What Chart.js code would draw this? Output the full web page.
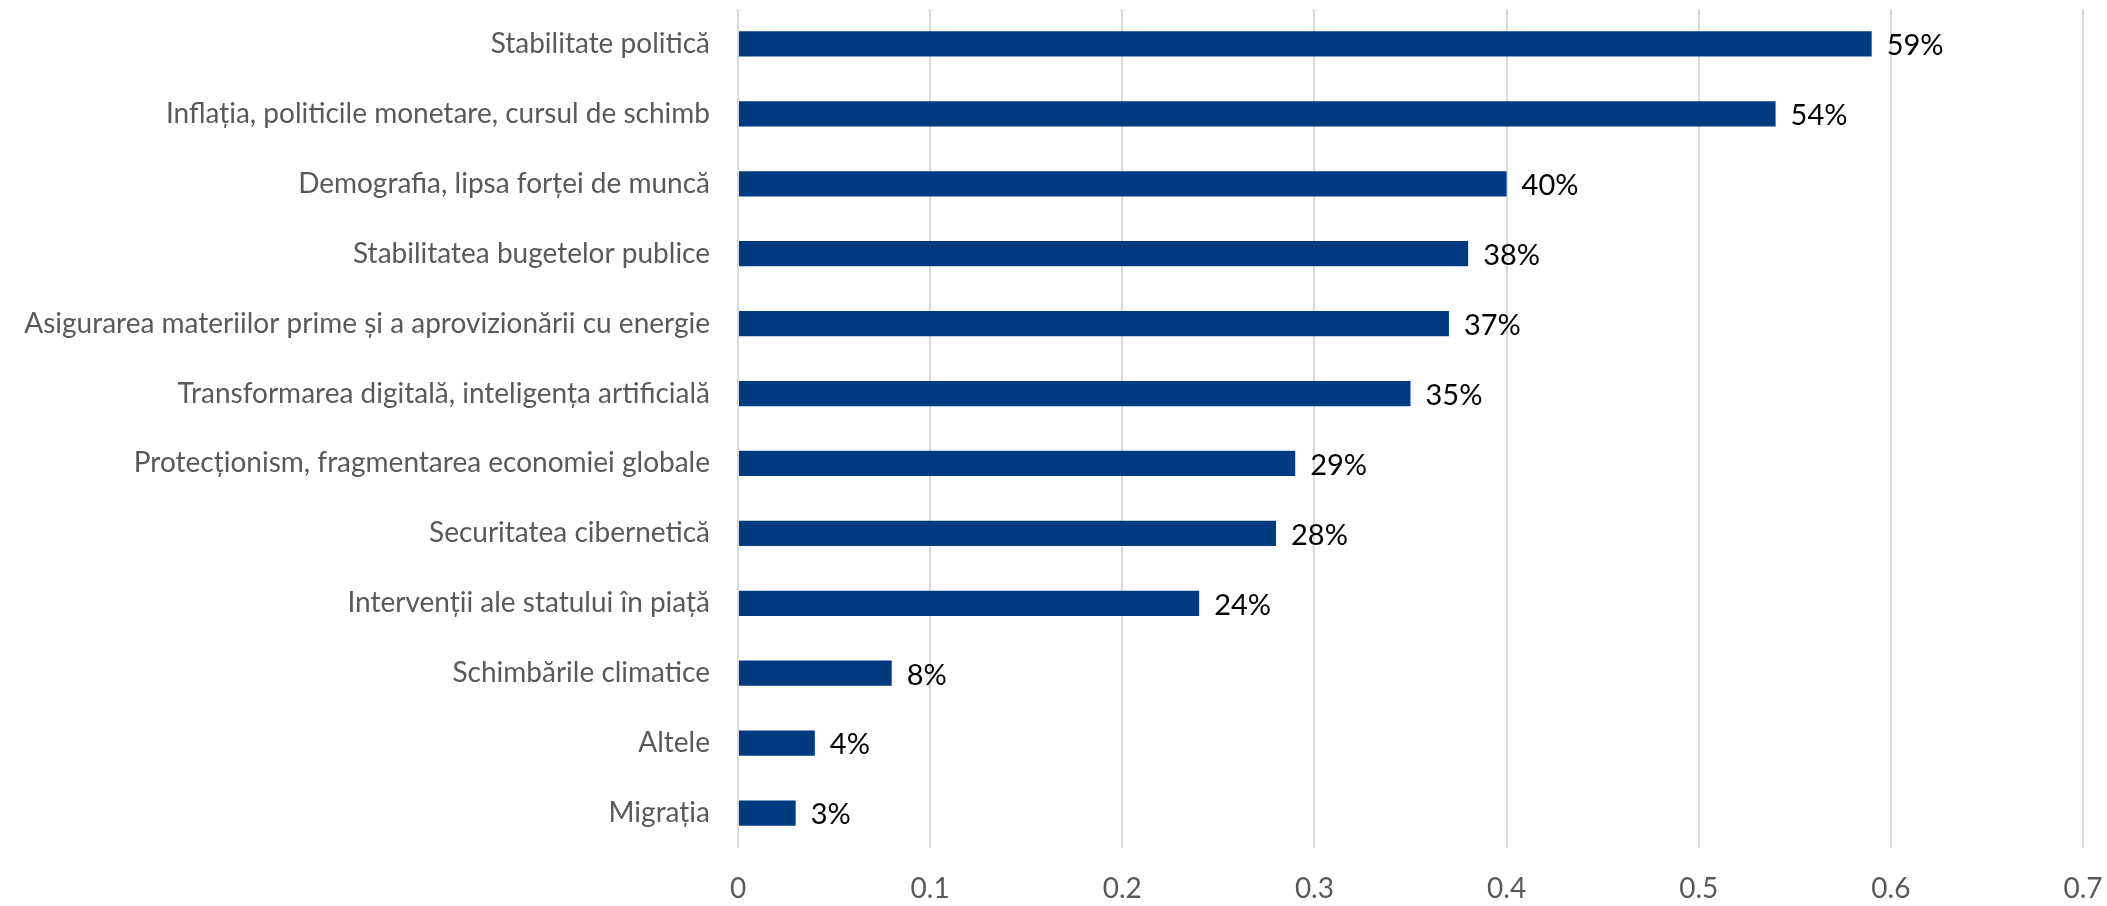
<!DOCTYPE html>
<html>
<head>
<meta charset="utf-8">
<script src="https://cdn.jsdelivr.net/npm/chart.js@4.4.1/dist/chart.umd.min.js"></script>
<style>
  html, body { margin: 0; padding: 0; background: #fff; }
  #wrap { width: 2107px; height: 906px; position: relative; }
</style>
</head>
<body>
<div id="wrap"><canvas id="chart"></canvas></div>
<script>
// Categories (top to bottom) and their shares
const categories = [
    'Stabilitate politică',
    'Inflația, politicile monetare, cursul de schimb',
    'Demografia, lipsa forței de muncă',
    'Stabilitatea bugetelor publice',
    'Asigurarea materiilor prime și a aprovizionării cu energie',
    'Transformarea digitală, inteligența artificială',
    'Protecționism, fragmentarea economiei globale',
    'Securitatea cibernetică',
    'Intervenții ale statului în piață',
    'Schimbările climatice',
    'Altele',
    'Migrația'
];
const shares = [0.59, 0.54, 0.40, 0.38, 0.37, 0.35, 0.29, 0.28, 0.24, 0.08, 0.04, 0.03];
const shareLabels = ['59%', '54%', '40%', '38%', '37%', '35%', '29%', '28%', '24%', '8%', '4%', '3%'];
const xTickLabels = ['0', '0.1', '0.2', '0.3', '0.4', '0.5', '0.6', '0.7'];

const FONT = 'Lato, "Open Sans", sans-serif';

// Simple value labels at the end of each bar
const barLabels = {
    id: 'barLabels',
    afterDatasetsDraw(chart) {
        const ctx = chart.ctx;
        const meta = chart.getDatasetMeta(0);
        ctx.save();
        ctx.font = '29px ' + FONT;
        ctx.fillStyle = '#000000';
        ctx.textAlign = 'left';
        ctx.textBaseline = 'middle';
        meta.data.forEach((bar, i) => {
            ctx.fillText(shareLabels[i], bar.x + 15, bar.y + 2);
        });
        ctx.restore();
    }
};

new Chart(document.getElementById('chart'), {
    type: 'bar',
    data: {
        labels: categories,
        datasets: [{
            data: shares,
            backgroundColor: '#003A80',
            borderWidth: 0,
            categoryPercentage: 1,
            barPercentage: 0.36
        }]
    },
    options: {
        indexAxis: 'y',
        responsive: true,
        maintainAspectRatio: false,
        animation: false,
        layout: { padding: { top: 9, right: 24, bottom: 0, left: 0 } },
        plugins: {
            legend: { display: false },
            tooltip: { enabled: false }
        },
        scales: {
            x: {
                min: 0,
                max: 0.7,
                ticks: {
                    stepSize: 0.1,
                    padding: 24,
                    color: '#595959',
                    font: { family: FONT, size: 28 },
                    callback: (v, i) => xTickLabels[i]
                },
                grid: { color: '#D9D9D9', lineWidth: 2, drawTicks: false },
                border: { display: false },
                afterFit: (scale) => {
                    scale.height = 58;
                    scale.paddingLeft = 0;
                    scale.paddingRight = 0;
                }
            },
            y: {
                ticks: {
                    padding: 28,
                    color: '#595959',
                    font: { family: FONT, size: 28 }
                },
                grid: { display: false, drawTicks: false },
                border: { display: false },
                afterFit: (scale) => {
                    scale.width = 738;
                    scale.paddingTop = 0;
                    scale.paddingBottom = 0;
                }
            }
        }
    },
    plugins: [barLabels]
});
</script>
</body>
</html>
